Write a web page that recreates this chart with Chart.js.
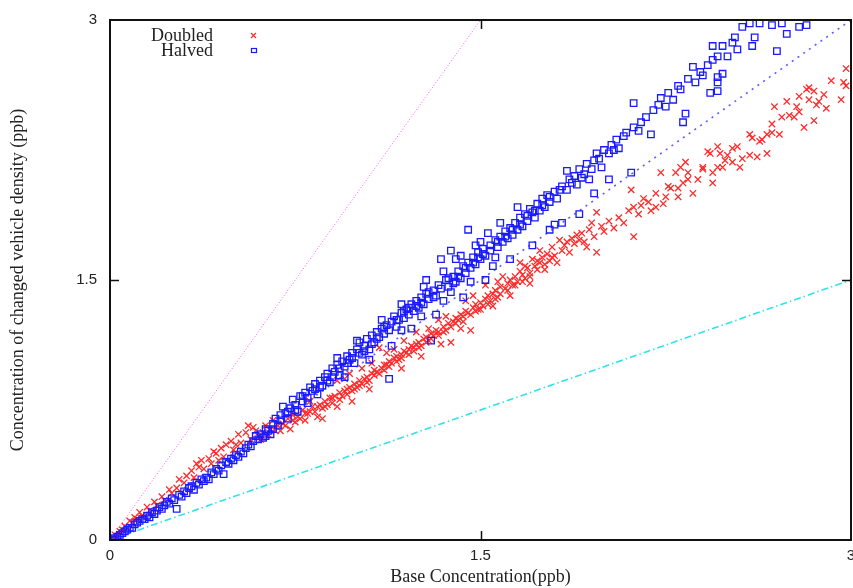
<!DOCTYPE html>
<html>
<head>
<meta charset="utf-8">
<script src="https://cdn.jsdelivr.net/npm/chart.js@4.4.0/dist/chart.umd.min.js"></script>
<style>
  html, body { margin: 0; padding: 0; background: #fff; }
  #wrap { width: 853px; height: 588px; }
</style>
</head>
<body>
<div id="wrap"><canvas id="densityChart" width="853" height="588"></canvas></div>
<script>
// base concentration (x) vs concentration with changed vehicle density (y), ppb
const doubled = [
  [0.01,0.01],[0.02,0.03],[0.03,0.02],[0.04,0.05],[0.05,0.06],[0.06,0.08],[0.07,0.07],[0.08,0.11],[0.09,0.10],[0.10,0.13],
  [0.11,0.12],[0.12,0.16],[0.13,0.14],[0.15,0.19],[0.16,0.17],[0.18,0.22],[0.19,0.20],[0.21,0.25],[0.22,0.23],[0.24,0.29],
  [0.25,0.27],[0.27,0.30],[0.28,0.35],[0.30,0.33],[0.31,0.37],[0.33,0.40],[0.34,0.36],[0.36,0.42],[0.37,0.46],[0.38,0.41],
  [0.40,0.47],[0.41,0.44],[0.43,0.50],[0.45,0.53],[0.46,0.48],[0.47,0.55],[0.49,0.57],[0.50,0.52],[0.52,0.61],[0.53,0.56],
  [0.55,0.62],[0.57,0.58],[0.58,0.65],[0.60,0.60],[0.61,0.58],[0.63,0.66],[0.64,0.61],[0.66,0.69],[0.67,0.63],[0.69,0.63],
  [0.70,0.67],[0.72,0.70],[0.73,0.64],[0.74,0.72],[0.75,0.68],[0.77,0.70],[0.78,0.75],[0.79,0.69],[0.80,0.73],[0.81,0.80],
  [0.82,0.77],[0.83,0.74],[0.84,0.71],[0.85,0.78],[0.86,0.76],[0.86,0.70],[0.87,0.80],[0.88,0.78],[0.89,0.82],[0.90,0.79],
  [0.91,0.83],[0.92,0.77],[0.92,0.92],[0.93,0.85],[0.94,0.83],[0.95,0.86],[0.95,0.93],[0.96,0.84],[0.97,0.88],[0.98,0.86],
  [0.98,0.80],[0.99,0.90],[1.00,0.88],[1.01,0.92],[1.02,0.90],[1.02,0.99],[1.03,0.93],[1.04,0.94],[1.05,0.92],[1.05,0.87],
  [1.06,0.96],[1.07,0.95],[1.08,0.97],[1.09,1.11],[1.10,0.99],[1.11,0.98],[1.12,1.01],[1.12,1.08],[1.13,1.03],[1.14,1.02],
  [1.15,1.05],[1.16,1.06],[1.17,1.04],[1.18,1.07],[1.18,0.99],[1.19,1.09],[1.19,1.15],[1.20,1.08],[1.21,1.10],[1.22,1.12],
  [1.23,1.11],[1.24,1.13],[1.24,1.20],[1.25,1.14],[1.26,1.12],[1.26,1.06],[1.27,1.16],[1.28,1.17],[1.29,1.15],[1.30,1.19],
  [1.31,1.18],[1.32,1.21],[1.33,1.20],[1.33,1.27],[1.34,1.13],[1.35,1.23],[1.36,1.21],[1.37,1.25],[1.38,1.14],[1.39,1.26],
  [1.40,1.28],[1.41,1.27],[1.42,1.30],[1.42,1.22],[1.43,1.29],[1.44,1.32],[1.44,1.38],[1.45,1.31],[1.46,1.21],[1.47,1.34],
  [1.48,1.36],[1.49,1.33],[1.50,1.37],[1.51,1.35],[1.52,1.39],[1.52,1.47],[1.53,1.41],[1.54,1.38],[1.55,1.42],[1.55,1.35],
  [1.56,1.44],[1.57,1.40],[1.58,1.46],[1.59,1.52],[1.60,1.45],[1.61,1.48],[1.62,1.50],[1.62,1.41],[1.63,1.47],[1.64,1.52],
  [1.65,1.49],[1.66,1.55],[1.66,1.60],[1.67,1.53],[1.68,1.51],[1.69,1.57],[1.70,1.54],[1.70,1.48],[1.71,1.62],[1.72,1.58],
  [1.73,1.56],[1.74,1.60],[1.74,1.67],[1.75,1.63],[1.76,1.59],[1.77,1.65],[1.78,1.61],[1.79,1.69],[1.80,1.64],[1.82,1.73],
  [1.83,1.67],[1.84,1.70],[1.86,1.66],[1.87,1.74],[1.88,1.71],[1.90,1.73],[1.91,1.77],[1.93,1.69],[1.94,1.79],[1.96,1.75],
  [1.97,1.89],[1.97,1.66],[1.99,1.81],[2.00,1.78],[2.02,1.84],[2.04,1.80],[2.06,1.86],[2.08,1.83],[2.10,1.90],[2.11,2.02],
  [2.12,1.75],[2.12,1.92],[2.14,1.88],[2.15,1.93],[2.16,1.97],[2.18,1.95],[2.19,1.90],[2.21,1.92],[2.21,2.00],[2.23,2.12],
  [2.24,1.94],[2.25,1.98],[2.26,2.04],[2.27,2.03],[2.29,2.12],[2.30,1.98],[2.30,2.03],[2.31,2.15],[2.32,2.06],[2.33,2.18],
  [2.34,2.08],[2.34,2.12],[2.36,2.00],[2.38,2.08],[2.40,2.14],[2.40,2.15],[2.42,2.24],[2.43,2.23],[2.44,2.12],[2.44,2.06],
  [2.46,2.27],[2.46,2.15],[2.47,2.23],[2.48,2.15],[2.49,2.19],[2.50,2.22],[2.52,2.26],[2.52,2.18],[2.54,2.27],[2.55,2.15],
  [2.56,2.20],[2.59,2.22],[2.59,2.34],[2.60,2.32],[2.62,2.21],[2.63,2.30],[2.64,2.31],[2.66,2.23],[2.66,2.34],[2.68,2.40],
  [2.68,2.35],[2.69,2.50],[2.71,2.34],[2.72,2.44],[2.74,2.53],[2.75,2.45],[2.77,2.44],[2.78,2.50],[2.79,2.56],[2.79,2.47],
  [2.81,2.38],[2.82,2.60],[2.83,2.61],[2.83,2.54],[2.85,2.59],[2.85,2.42],[2.86,2.51],[2.87,2.53],[2.89,2.57],[2.90,2.49],
  [2.92,2.65],[2.96,2.54],[2.97,2.64],[2.98,2.72],[2.98,2.62],
  [0.62,0.62],[0.65,0.64],[0.68,0.66],[0.71,0.66],[0.74,0.69],[0.76,0.71],[0.79,0.73],[0.81,0.74],[0.84,0.77],[0.87,0.77],
  [0.90,0.82],[0.93,0.81],[0.96,0.87],[0.99,0.87],[1.01,0.89],[1.04,0.91],[1.07,0.98],[1.09,0.96],[1.11,1.01],[1.13,1.00],
  [1.16,1.03],[1.18,1.05],[1.21,1.07],[1.23,1.09],[1.25,1.11],[1.28,1.14],[1.30,1.16],[1.33,1.18],[1.35,1.20],[1.38,1.23],
  [1.40,1.25],[1.43,1.26],[1.46,1.30],[1.48,1.32],[1.50,1.33],[1.53,1.36],[1.56,1.39],[1.58,1.42],[1.61,1.44],[1.64,1.47],
  [1.67,1.49],[1.70,1.52],[1.73,1.61],[1.76,1.56],[1.79,1.63],[1.81,1.60],[1.85,1.72],[1.89,1.76],[1.92,1.72],[1.95,1.83],
  [0.97,0.96],[1.06,1.02],[1.15,1.10],[1.29,1.22],[1.36,1.29],[1.47,1.41],[1.57,1.49],[1.68,1.58],[0.42,0.51],[0.35,0.44],
  [0.44,0.46],[0.56,0.66],[0.59,0.63],[0.51,0.55]
];

const halved = [
  [0.01,0.00],[0.02,0.01],[0.03,0.02],[0.04,0.03],[0.05,0.04],[0.06,0.05],[0.07,0.06],[0.08,0.07],[0.09,0.07],[0.10,0.09],
  [0.11,0.10],[0.12,0.11],[0.13,0.12],[0.14,0.12],[0.15,0.14],[0.16,0.13],[0.17,0.16],[0.18,0.15],[0.19,0.17],[0.20,0.19],
  [0.21,0.18],[0.22,0.20],[0.23,0.22],[0.24,0.21],[0.25,0.24],[0.26,0.23],[0.27,0.18],[0.28,0.26],[0.29,0.25],[0.30,0.28],
  [0.31,0.27],[0.32,0.30],[0.33,0.31],[0.34,0.29],[0.35,0.33],[0.36,0.32],[0.37,0.35],[0.38,0.34],[0.39,0.36],[0.40,0.35],
  [0.41,0.39],[0.42,0.38],[0.43,0.41],[0.44,0.40],[0.45,0.43],[0.46,0.38],[0.47,0.45],[0.48,0.44],[0.49,0.47],[0.50,0.46],
  [0.51,0.49],[0.52,0.48],[0.53,0.51],[0.54,0.50],[0.55,0.53],[0.56,0.55],[0.57,0.54],[0.58,0.57],[0.59,0.60],[0.60,0.58],
  [0.61,0.61],[0.62,0.59],[0.63,0.64],[0.64,0.63],[0.65,0.61],[0.66,0.67],[0.67,0.70],[0.68,0.66],[0.69,0.72],[0.70,0.77],
  [0.71,0.73],[0.72,0.70],[0.73,0.76],[0.74,0.81],[0.75,0.78],[0.76,0.74],[0.77,0.83],[0.78,0.80],[0.79,0.85],[0.80,0.82],
  [0.81,0.88],[0.82,0.86],[0.83,0.90],[0.84,0.84],[0.85,0.92],[0.86,0.89],[0.87,0.94],[0.88,0.96],[0.89,0.91],[0.90,0.99],
  [0.91,0.97],[0.92,1.01],[0.92,1.05],[0.93,0.95],[0.94,1.03],[0.95,1.00],[0.95,0.94],[0.96,1.06],[0.97,1.04],[0.98,1.08],
  [0.99,1.02],[1.00,1.10],[1.00,1.15],[1.01,1.14],[1.02,1.07],[1.03,1.12],[1.04,1.16],[1.05,1.10],[1.05,1.04],[1.06,1.18],
  [1.07,1.14],[1.08,1.20],[1.09,1.17],[1.10,1.22],[1.10,1.27],[1.11,1.19],[1.12,1.24],[1.13,0.93],[1.14,1.26],[1.14,1.12],
  [1.15,1.29],[1.16,1.23],[1.17,1.27],[1.18,1.31],[1.18,1.36],[1.19,1.28],[1.20,1.33],[1.21,1.30],[1.22,1.36],[1.22,1.22],
  [1.23,1.32],[1.24,1.38],[1.25,1.34],[1.26,1.40],[1.27,1.36],[1.27,1.46],[1.28,1.42],[1.29,1.39],[1.30,1.15],[1.31,1.44],
  [1.32,1.41],[1.32,1.30],[1.33,1.47],[1.34,1.62],[1.35,1.38],[1.35,1.55],[1.36,1.50],[1.37,1.46],[1.38,1.67],[1.39,1.52],
  [1.40,1.49],[1.41,1.55],[1.42,1.51],[1.42,1.64],[1.43,1.58],[1.43,1.40],[1.44,1.54],[1.45,1.60],[1.45,1.79],[1.46,1.57],
  [1.47,1.63],[1.48,1.59],[1.49,1.66],[1.50,1.62],[1.50,1.72],[1.51,1.68],[1.52,1.64],[1.52,1.50],[1.53,1.77],[1.54,1.70],
  [1.55,1.58],[1.56,1.73],[1.57,1.69],[1.58,1.75],[1.58,1.83],[1.59,1.72],[1.60,1.78],[1.61,1.74],[1.62,1.80],[1.62,1.62],
  [1.63,1.76],[1.64,1.83],[1.65,1.79],[1.65,1.92],[1.66,1.86],[1.67,1.81],[1.68,1.88],[1.69,1.84],[1.70,1.91],[1.71,1.89],
  [1.71,1.70],[1.72,1.86],[1.73,1.94],[1.74,1.90],[1.75,1.97],[1.76,1.92],[1.77,1.99],[1.78,1.95],[1.78,1.79],[1.80,1.82],
  [1.80,2.01],[1.81,1.97],[1.83,1.83],[1.83,2.04],[1.85,2.13],[1.85,2.02],[1.86,2.08],[1.88,2.10],[1.89,2.05],[1.90,2.14],
  [1.90,1.88],[1.92,2.11],[1.93,2.17],[1.94,2.08],[1.96,2.19],[1.96,2.00],[1.97,2.23],[1.99,2.15],[2.00,2.25],[2.02,2.23],
  [2.02,2.08],[2.03,2.28],[2.05,2.31],[2.06,2.26],[2.08,2.33],[2.09,2.35],[2.11,2.12],[2.12,2.52],[2.12,2.38],[2.14,2.36],
  [2.15,2.41],[2.17,2.44],[2.19,2.34],[2.20,2.48],[2.22,2.51],[2.23,2.55],[2.25,2.50],[2.26,2.58],[2.28,2.54],[2.30,2.62],
  [2.31,2.60],[2.32,2.41],[2.33,2.46],[2.34,2.66],[2.36,2.73],[2.37,2.64],[2.39,2.70],[2.40,2.68],[2.42,2.74],[2.43,2.58],
  [2.44,2.77],[2.44,2.85],[2.46,2.79],[2.46,2.67],[2.46,2.64],[2.46,2.59],[2.48,2.85],[2.48,2.69],[2.50,2.79],[2.52,2.87],
  [2.53,2.90],[2.54,2.83],[2.56,2.96],[2.59,2.98],[2.60,2.85],[2.61,2.90],[2.63,2.98],[2.68,2.97],[2.70,2.82],[2.72,2.98],
  [2.74,2.92],[2.79,2.96],[2.82,2.97],
  [0.63,0.60],[0.66,0.64],[0.69,0.69],[0.72,0.74],[0.75,0.75],[0.78,0.83],[0.80,0.79],[0.83,0.87],[0.85,0.88],[0.88,0.92],
  [0.90,0.94],[0.93,0.99],[0.96,1.02],[0.98,1.05],[1.01,1.08],[1.03,1.09],[1.06,1.13],[1.08,1.16],[1.11,1.23],[1.13,1.21],
  [1.16,1.27],[1.19,1.32],[1.21,1.34],[1.24,1.35],[1.26,1.37],[1.29,1.43],[1.31,1.40],[1.34,1.45],[1.37,1.51],[1.39,1.48],
  [1.41,1.52],[1.44,1.57],[1.47,1.60],[1.49,1.63],[1.51,1.65],[1.54,1.67],[1.57,1.72],[1.60,1.75],[1.63,1.79],[1.66,1.82],
  [1.69,1.87],[1.72,1.90],[1.75,1.93],[1.78,1.98],[1.82,2.02],[1.87,2.06],[1.91,2.09],[1.95,2.14],[1.98,2.20],[2.04,2.25],
  [1.18,1.21],[1.26,1.29],[1.38,1.43],[1.46,1.49],[1.56,1.63],[1.28,1.50],[1.40,1.62],[1.48,1.70]
];

// guide lines y = 2x, y = x and y = x/2
const lineTwice = [[0, 0], [1.5, 3]];
const lineSame = [[0, 0], [3, 3]];
const lineHalf = [[0, 0], [3, 1.5]];

const axisTicks = [0, 1.5, 3];
const tickLabels = ['0', '1.5', '3'];

const toPoints = arr => arr.map(p => ({ x: p[0], y: p[1] }));

const redMark = '#ff2a2a';
const blueMark = '#1a1aff';

// frame with inward ticks on all four sides
const framePlugin = {
  id: 'frame',
  afterDraw(chart) {
    const { ctx, chartArea: a, scales } = chart;
    ctx.save();
    ctx.strokeStyle = '#111';
    ctx.lineWidth = 2;
    ctx.strokeRect(a.left, a.top, a.right - a.left, a.bottom - a.top);
    ctx.lineWidth = 1.5;
    ctx.beginPath();
    axisTicks.slice(1, -1).forEach(v => {
      const px = Math.round(scales.x.getPixelForValue(v)) + 0.5;
      const py = Math.round(scales.y.getPixelForValue(v)) + 0.5;
      ctx.moveTo(px, a.bottom); ctx.lineTo(px, a.bottom - 9);
      ctx.moveTo(px, a.top); ctx.lineTo(px, a.top + 9);
      ctx.moveTo(a.left, py); ctx.lineTo(a.left + 9, py);
      ctx.moveTo(a.right, py); ctx.lineTo(a.right - 9, py);
    });
    ctx.stroke();
    ctx.restore();
  }
};

// gnuplot-style key: label right-aligned, sample marker after it
const keyPlugin = {
  id: 'key',
  afterDraw(chart) {
    const ctx = chart.ctx;
    ctx.save();
    ctx.font = '18px "Liberation Serif", serif';
    ctx.fillStyle = '#222';
    ctx.textAlign = 'right';
    ctx.textBaseline = 'middle';
    ctx.fillText('Doubled', 213, 36);
    ctx.fillText('Halved', 213, 51);

    ctx.lineWidth = 1.2;
    ctx.strokeStyle = redMark;
    ctx.beginPath();
    ctx.moveTo(251, 33); ctx.lineTo(256, 38);
    ctx.moveTo(256, 33); ctx.lineTo(251, 38);
    ctx.stroke();

    ctx.strokeStyle = blueMark;
    ctx.strokeRect(251.5, 48.5, 5, 4);
    ctx.restore();
  }
};

new Chart(document.getElementById('densityChart'), {
  type: 'scatter',
  data: {
    datasets: [
      {
        label: 'Halved',
        data: toPoints(halved),
        pointStyle: 'rect',
        pointRadius: 4.6,
        borderColor: blueMark,
        backgroundColor: 'rgba(0,0,0,0)',
        borderWidth: 1.3,
        order: 1
      },
      {
        label: 'Doubled',
        data: toPoints(doubled),
        pointStyle: 'crossRot',
        pointRadius: 4.5,
        borderColor: redMark,
        borderWidth: 1.3,
        order: 2
      },
      {
        label: 'y=2x',
        data: toPoints(lineTwice),
        showLine: true,
        pointRadius: 0,
        borderColor: '#ff55ff',
        borderWidth: 1,
        borderDash: [1, 2],
        order: 3
      },
      {
        label: 'y=x',
        data: toPoints(lineSame),
        showLine: true,
        pointRadius: 0,
        borderColor: '#5c5cff',
        borderWidth: 1.6,
        borderDash: [2, 5],
        order: 3
      },
      {
        label: 'y=x/2',
        data: toPoints(lineHalf),
        showLine: true,
        pointRadius: 0,
        borderColor: '#30e2ea',
        borderWidth: 1.6,
        borderDash: [7, 3, 1.5, 3],
        order: 3
      }
    ]
  },
  options: {
    responsive: false,
    animation: false,
    devicePixelRatio: 1,
    // no automatic room for marker overflow, the frame sits at fixed edges
    layout: { autoPadding: false, padding: { top: 20, right: 2, left: 0, bottom: 0 } },
    plugins: {
      legend: { display: false },
      tooltip: { enabled: false }
    },
    scales: {
      x: {
        type: 'linear',
        min: 0,
        max: 3,
        afterBuildTicks: s => { s.ticks = axisTicks.map(v => ({ value: v })); },
        afterFit: s => { s.height = 48; s.paddingLeft = 0; s.paddingRight = 0; },
        grid: { display: false, drawTicks: false },
        border: { display: false },
        ticks: {
          padding: 7,
          maxRotation: 0,
          color: '#222',
          font: { family: '"Liberation Sans", Arial, sans-serif', size: 15 },
          callback: v => tickLabels[axisTicks.indexOf(v)]
        },
        title: {
          display: true,
          text: 'Base Concentration(ppb)',
          color: '#222',
          font: { family: '"Liberation Serif", serif', size: 18 },
          padding: { top: 0, bottom: 0 }
        }
      },
      y: {
        type: 'linear',
        min: 0,
        max: 3,
        afterBuildTicks: s => { s.ticks = axisTicks.map(v => ({ value: v })); },
        afterFit: s => { s.width = 110; s.paddingTop = 0; s.paddingBottom = 0; },
        grid: { display: false, drawTicks: false },
        border: { display: false },
        ticks: {
          padding: 13,
          color: '#222',
          font: { family: '"Liberation Sans", Arial, sans-serif', size: 15 },
          callback: v => tickLabels[axisTicks.indexOf(v)]
        },
        title: {
          display: true,
          text: 'Concentration of changed vehicle density (ppb)',
          color: '#222',
          font: { family: '"Liberation Serif", serif', size: 18 },
          padding: { top: 7, bottom: 0 }
        }
      }
    }
  },
  plugins: [framePlugin, keyPlugin]
});
</script>
</body>
</html>
